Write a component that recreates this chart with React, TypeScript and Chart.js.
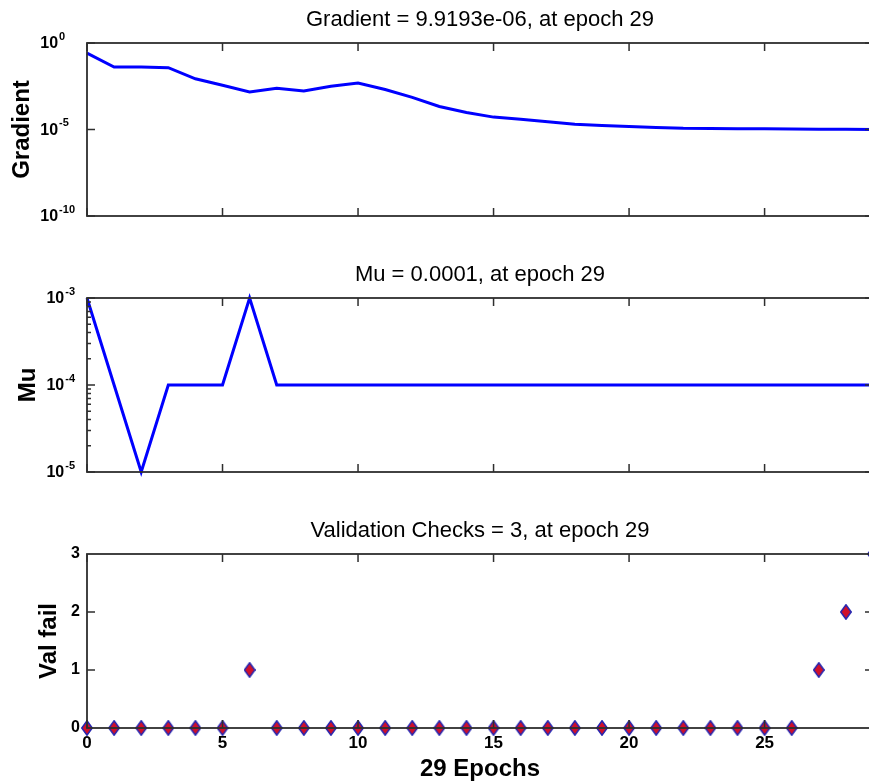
import { useEffect, useRef } from 'react';
import { Chart, registerables } from 'chart.js';

Chart.register(...registerables);

// ---------------- data ----------------
const EPOCHS = [0, 1, 2, 3, 4, 5, 6, 7, 8, 9, 10, 11, 12, 13, 14, 15, 16, 17, 18, 19, 20, 21, 22, 23, 24, 25, 26, 27, 28, 29];
const GRADIENT = [
  0.257, 0.0407, 0.0407, 0.0372, 0.0085, 0.00363, 0.00148, 0.0024, 0.0017, 0.00316,
  0.00479, 0.00204, 0.000724, 0.000214, 0.000095, 0.000052, 0.000039, 0.000028, 0.0000204, 0.000017,
  0.0000148, 0.0000129, 0.0000117, 0.0000115, 0.0000112, 0.000011, 0.0000107, 0.0000105, 0.0000102, 0.0000099193,
];
const MU = [
  0.001, 0.0001, 0.00001, 0.0001, 0.0001, 0.0001, 0.001, 0.0001, 0.0001, 0.0001,
  0.0001, 0.0001, 0.0001, 0.0001, 0.0001, 0.0001, 0.0001, 0.0001, 0.0001, 0.0001,
  0.0001, 0.0001, 0.0001, 0.0001, 0.0001, 0.0001, 0.0001, 0.0001, 0.0001, 0.0001,
];
const VAL_FAIL = [0, 0, 0, 0, 0, 0, 1, 0, 0, 0, 0, 0, 0, 0, 0, 0, 0, 0, 0, 0, 0, 0, 0, 0, 0, 0, 0, 1, 2, 3];

const X_TICKS = [0, 5, 10, 15, 20, 25];
const GRADIENT_TICKS = [1, 1e-5, 1e-10];
const MU_TICKS = [1e-3, 1e-4, 1e-5];
const MU_MINOR_TICKS = [2e-5, 3e-5, 4e-5, 5e-5, 6e-5, 7e-5, 8e-5, 9e-5, 2e-4, 3e-4, 4e-4, 5e-4, 6e-4, 7e-4, 8e-4, 9e-4];
const VAL_TICKS = [1, 2];

const GRADIENT_TITLE = 'Gradient = 9.9193e-06, at epoch 29';
const MU_TITLE = 'Mu = 0.0001, at epoch 29';
const VAL_TITLE = 'Validation Checks = 3, at epoch 29';
const GRADIENT_LABEL = 'Gradient';
const MU_LABEL = 'Mu';
const VAL_LABEL = 'Val fail';
const X_LABEL = '29 Epochs';

// ---------------- style ----------------
const FONT = '"Liberation Sans", Arial, Helvetica, sans-serif';
const AXIS_COLOR = '#2e2e2e';
const LINE_BLUE = '#0000ff';
const CANVAS_W = 876;

function makeDiamond(): HTMLCanvasElement {
  const c = document.createElement('canvas');
  const w = 12;
  const h = 16;
  c.width = w;
  c.height = h;
  const g = c.getContext('2d')!;
  g.beginPath();
  g.moveTo(w / 2, 0.8);
  g.lineTo(w - 0.8, h / 2);
  g.lineTo(w / 2, h - 0.8);
  g.lineTo(0.8, h / 2);
  g.closePath();
  g.fillStyle = '#d0102a';
  g.fill();
  g.lineWidth = 1.5;
  g.strokeStyle = '#2626b0';
  g.stroke();
  return c;
}

function framePlugin(yMajor: number[], yMinor: number[], logLabels: boolean) {
  return {
    id: 'matlabFrame',
    afterDatasetsDraw(chart: any) {
      const { ctx, chartArea } = chart;
      const { left, right, top, bottom } = chartArea;
      const xs = chart.scales.x;
      const ys = chart.scales.y;
      ctx.save();
      ctx.strokeStyle = AXIS_COLOR;
      ctx.lineWidth = 1.5;
      ctx.beginPath();
      const MAJOR = 8;
      const MINOR = 4;
      X_TICKS.forEach((v) => {
        const px = xs.getPixelForValue(v);
        ctx.moveTo(px, bottom);
        ctx.lineTo(px, bottom - MAJOR);
        ctx.moveTo(px, top);
        ctx.lineTo(px, top + MAJOR);
      });
      yMajor.forEach((v) => {
        const py = ys.getPixelForValue(v);
        ctx.moveTo(left, py);
        ctx.lineTo(left + MAJOR, py);
        ctx.moveTo(right, py);
        ctx.lineTo(right - MAJOR, py);
      });
      yMinor.forEach((v) => {
        const py = ys.getPixelForValue(v);
        ctx.moveTo(left, py);
        ctx.lineTo(left + MINOR, py);
        ctx.moveTo(right, py);
        ctx.lineTo(right - MINOR, py);
      });
      ctx.stroke();
      ctx.lineWidth = 1.8;
      ctx.strokeRect(left, top, right - left, bottom - top);

      if (logLabels) {
        const baseFont = `bold 16px ${FONT}`;
        const expFont = `bold 11px ${FONT}`;
        ctx.fillStyle = '#000';
        ctx.textAlign = 'left';
        ctx.textBaseline = 'middle';
        ctx.font = baseFont;
        const wb = ctx.measureText('10').width;
        ctx.font = expFont;
        const exps = yMajor.map((v) => String(Math.round(Math.log10(v))));
        const widest = Math.max(...exps.map((e) => ctx.measureText(e).width));
        const x0 = left - 12 - (wb + 1 + widest);
        yMajor.forEach((v, i) => {
          const py = ys.getPixelForValue(v);
          ctx.font = baseFont;
          ctx.fillText('10', x0, py + 1);
          ctx.font = expFont;
          ctx.fillText(exps[i], x0 + wb + 1, py - 6.5);
        });
      }
      ctx.restore();
    },
  };
}

function titleOpts(text: string) {
  return {
    display: true,
    text,
    fullSize: false,
    color: '#000',
    font: { family: FONT, size: 22, weight: 'normal' as const, lineHeight: 1.2 },
    padding: { top: 7, bottom: 9.6 },
  };
}

function yTitle(text: string, pad: number) {
  return {
    display: true,
    text,
    color: '#000',
    font: { family: FONT, size: 24, weight: 'bold' as const, lineHeight: 1.2 },
    padding: { top: pad, bottom: 0 },
  };
}

const fixYWidth = (s: any) => {
  s.width = 87;
  s.paddingTop = 0;
  s.paddingBottom = 0;
};

function fixXHeight(height: number) {
  return (s: any) => {
    s.height = height;
    s.paddingLeft = 0;
    s.paddingRight = 0;
  };
}

function hiddenX(height: number) {
  return {
    type: 'linear' as const,
    min: 0,
    max: 29,
    afterFit: fixXHeight(height),
    ticks: { display: false },
    grid: { display: false, drawTicks: false },
    border: { display: false },
  };
}

function baseOptions(title: string, padTop: number, scales: any) {
  return {
    responsive: false,
    animation: false as const,
    layout: { autoPadding: false, padding: { top: padTop, left: 0, right: 3, bottom: 0 } },
    plugins: {
      legend: { display: false },
      tooltip: { enabled: false },
      title: titleOpts(title),
    },
    scales,
  };
}

export default function App() {
  const ref1 = useRef<HTMLCanvasElement>(null);
  const ref2 = useRef<HTMLCanvasElement>(null);
  const ref3 = useRef<HTMLCanvasElement>(null);

  useEffect(() => {
    document.body.style.margin = '0';
    const diamond = makeDiamond();
    const charts: Chart[] = [];

    charts.push(
      new Chart(ref1.current!, {
        type: 'line',
        data: {
          datasets: [
            {
              data: EPOCHS.map((e, i) => ({ x: e, y: GRADIENT[i] })),
              borderColor: LINE_BLUE,
              borderWidth: 3,
              pointRadius: 0,
              tension: 0,
              fill: false,
              clip: false as any,
            },
          ],
        },
        options: baseOptions(GRADIENT_TITLE, 0, {
          x: hiddenX(34),
          y: {
            type: 'logarithmic',
            min: 1e-10,
            max: 1,
            afterFit: fixYWidth,
            ticks: { display: false },
            grid: { display: false, drawTicks: false },
            border: { display: false },
            title: yTitle(GRADIENT_LABEL, 8),
          },
        }) as any,
        plugins: [framePlugin(GRADIENT_TICKS, [], true)],
      })
    );

    charts.push(
      new Chart(ref2.current!, {
        type: 'line',
        data: {
          datasets: [
            {
              data: EPOCHS.map((e, i) => ({ x: e, y: MU[i] })),
              borderColor: LINE_BLUE,
              borderWidth: 3,
              pointRadius: 0,
              tension: 0,
              fill: false,
              clip: false as any,
            },
          ],
        },
        options: baseOptions(MU_TITLE, 5, {
          x: hiddenX(28),
          y: {
            type: 'logarithmic',
            min: 1e-5,
            max: 1e-3,
            afterFit: fixYWidth,
            ticks: { display: false },
            grid: { display: false, drawTicks: false },
            border: { display: false },
            title: yTitle(MU_LABEL, 13.5),
          },
        }) as any,
        plugins: [framePlugin(MU_TICKS, MU_MINOR_TICKS, true)],
      })
    );

    charts.push(
      new Chart(ref3.current!, {
        type: 'scatter',
        data: {
          datasets: [
            {
              data: EPOCHS.map((e, i) => ({ x: e, y: VAL_FAIL[i] })),
              pointStyle: diamond as any,
              pointRadius: 7,
              showLine: false,
              clip: false as any,
            },
          ],
        },
        options: baseOptions(VAL_TITLE, 11, {
          x: {
            type: 'linear',
            min: 0,
            max: 29,
            afterBuildTicks: (s: any) => {
              s.ticks = X_TICKS.map((v) => ({ value: v }));
            },
            afterFit: fixXHeight(53),
            ticks: {
              color: '#000',
              padding: 5,
              maxRotation: 0,
              autoSkip: false,
              font: { family: FONT, size: 17, weight: 'bold' },
            },
            grid: { display: false, drawTicks: false },
            border: { display: false },
            title: {
              display: true,
              text: X_LABEL,
              color: '#000',
              font: { family: FONT, size: 24, weight: 'bold', lineHeight: 1 },
              padding: { top: 0, bottom: 0 },
            },
          },
          y: {
            type: 'linear',
            min: 0,
            max: 3,
            afterFit: fixYWidth,
            ticks: {
              stepSize: 1,
              color: '#000',
              padding: 7,
              font: { family: FONT, size: 16, weight: 'bold' },
            },
            grid: { display: false, drawTicks: false },
            border: { display: false },
            title: yTitle(VAL_LABEL, 34.5),
          },
        }) as any,
        plugins: [framePlugin(VAL_TICKS, [], false)],
      })
    );

    return () => {
      charts.forEach((c) => c.destroy());
    };
  }, []);

  const canvasStyle = (top: number, h: number): React.CSSProperties => ({
    position: 'absolute',
    left: 0,
    top,
    width: CANVAS_W,
    height: h,
    display: 'block',
  });

  return (
    <div
      style={{
        position: 'absolute',
        left: 0,
        top: 0,
        width: 869,
        height: 781,
        overflow: 'hidden',
        background: '#ffffff',
      }}
    >
      <canvas ref={ref1} width={CANVAS_W} height={250} style={canvasStyle(0, 250)} />
      <canvas ref={ref2} width={CANVAS_W} height={250} style={canvasStyle(250, 250)} />
      <canvas ref={ref3} width={CANVAS_W} height={281} style={canvasStyle(500, 281)} />
    </div>
  );
}
